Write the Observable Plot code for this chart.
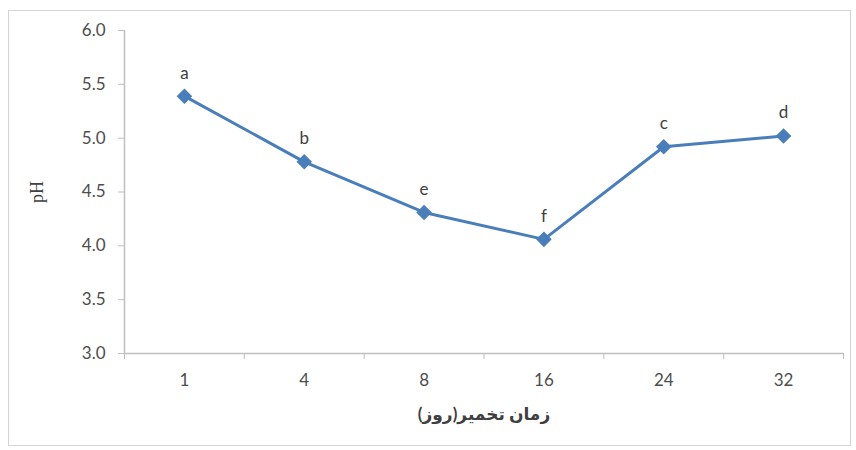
<!DOCTYPE html>
<html>
<head>
<meta charset="utf-8">
<script src="https://cdn.jsdelivr.net/npm/d3@7"></script>
<script src="https://cdn.jsdelivr.net/npm/@observablehq/plot@0.6"></script>
<style>
  html, body { margin: 0; padding: 0; background: #ffffff; }
  #wrap { position: relative; width: 856px; height: 450px; }
  #border { position: absolute; left: 8px; top: 10px; width: 841px; height: 434px; border: 1.5px solid #d4d4d4; pointer-events: none; }
</style>
</head>
<body>
<div id="wrap"><div id="chart"></div><div id="border"></div></div>
<script>
const days = ["1", "4", "8", "16", "24", "32"];
const phValues = [5.39, 4.78, 4.31, 4.06, 4.92, 5.02];
const letters = ["a", "b", "e", "f", "c", "d"];
const yTicks = [3.0, 3.5, 4.0, 4.5, 5.0, 5.5, 6.0];
const xLabel = "زمان تخمیر(روز)";
const yLabel = "pH";

const data = days.map((d, i) => ({ i, day: d, ph: phValues[i], letter: letters[i] }));
const centers = days.map((d, i) => i);
const bounds = d3.range(days.length + 1).map(k => k - 0.5);

const chart = Plot.plot({
  width: 856,
  height: 450,
  marginLeft: 124,
  marginRight: 13,
  marginTop: 30,
  marginBottom: 97,
  style: { fontFamily: "Lato, 'DejaVu Sans', sans-serif", fontSize: "17px", color: "#595959", background: "transparent" },
  x: { type: "linear", domain: [-0.5, days.length - 0.5] },
  y: { domain: [3, 6] },
  marks: [
    Plot.axisY({ ticks: yTicks, tickFormat: d => d.toFixed(1), tickSize: 6, tickPadding: 13, stroke: "#bfbfbf", fill: "#4d4d4d", fontSize: 17,
      label: yLabel, labelAnchor: "center", labelOffset: 94, labelArrow: "none" }),
    Plot.axisX({ ticks: centers, tickSize: 0, tickPadding: 20, tickFormat: i => days[i], fill: "#4d4d4d", fontSize: 17,
      label: xLabel, labelAnchor: "center", labelOffset: 66, labelArrow: "none" }),
    Plot.axisX({ ticks: bounds, tickSize: 6, tickFormat: () => "", stroke: "#bfbfbf", label: null }),
    Plot.ruleX([-0.5], { stroke: "#bfbfbf", strokeWidth: 1.5 }),
    Plot.ruleY([3], { stroke: "#bfbfbf", strokeWidth: 1.5 }),
    Plot.line(data, { x: "i", y: "ph", stroke: "#4a7ebb", strokeWidth: 3 }),
    Plot.dot(data, { x: "i", y: "ph", symbol: "diamond2", r: 7, fill: "#4a7ebb", stroke: "none" }),
    Plot.text(data, { x: "i", y: "ph", text: "letter", dy: -23, fontSize: 17, fill: "#404040" })
  ]
});
d3.select(chart).selectAll("g[aria-label='y-axis label'] text")
  .style("font-family", "'Liberation Serif', 'DejaVu Serif', serif").style("font-size", "18px").attr("fill", "#404040");
d3.select(chart).selectAll("g[aria-label='x-axis label'] text")
  .style("font-size", "17px").style("font-weight", "bold").attr("fill", "#404040");
document.getElementById("chart").appendChild(chart);
</script>
</body>
</html>
